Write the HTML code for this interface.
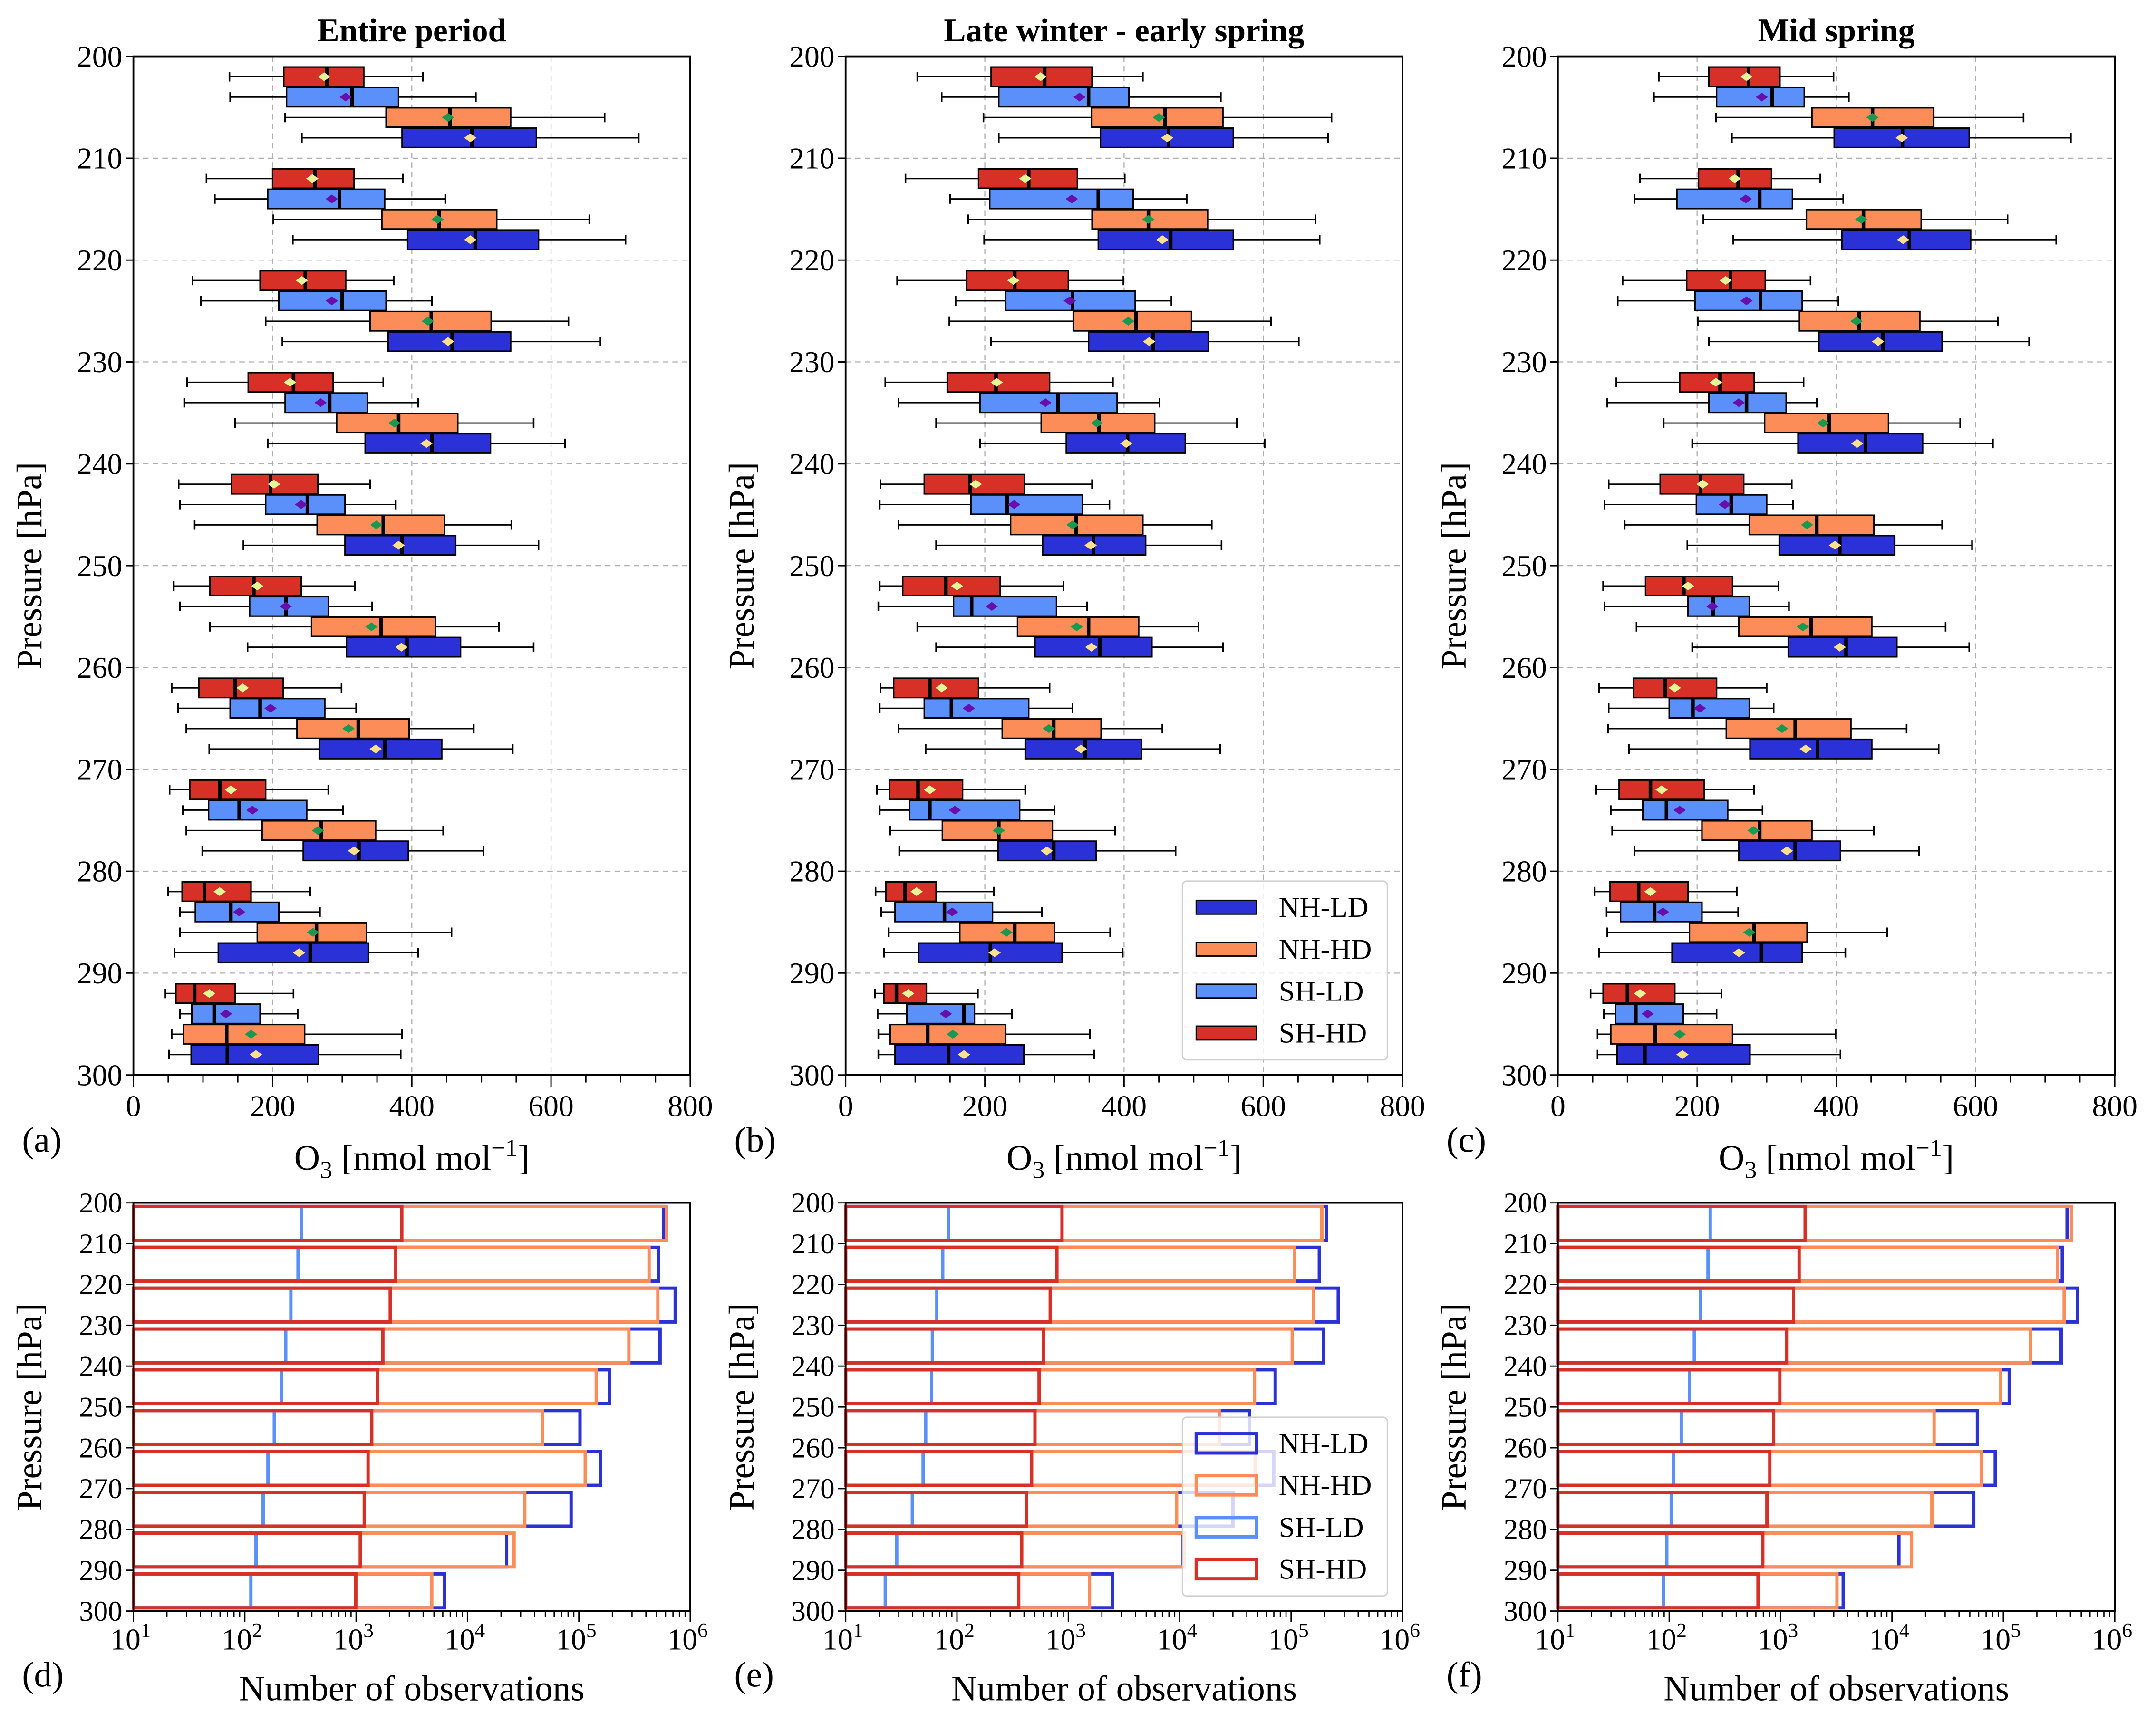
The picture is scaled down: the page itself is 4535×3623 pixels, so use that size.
<!DOCTYPE html>
<html><head><meta charset="utf-8"><style>
html,body{margin:0;padding:0;background:#fff;}
svg{display:block;font-family:"Liberation Serif","DejaVu Serif",serif;}
text{font-family:"Liberation Serif","DejaVu Serif",serif;}
</style></head><body>
<svg id="fig" xmlns="http://www.w3.org/2000/svg" width="4535" height="3623" viewBox="0 0 1568 1252.7" font-family="'Liberation Serif', 'DejaVu Serif', serif">
<rect x="0" y="0" width="1568" height="1252.7" fill="#fff"/>
</svg>
<script>
// ===== Data: boxplot stats per pressure bin, order [low whisker, q1, q3, median, mean, high whisker] =====
const pressures = [200,210,220,230,240,250,260,270,280,290];
const seriesNames = ["NH-LD","NH-HD","SH-LD","SH-HD"];
const a_SHHD = [[138,216,331,278,274,416],[105,200,317,261,257,387],[85,182,305,247,242,374],[77,165,287,230,225,359],[65,141,265,197,202,340],[58,110,241,173,178,318],[55,94,215,146,157,299],[52,81,190,124,140,280],[50,70,169,102,124,254],[46,61,146,88,109,230]];
const a_SHLD = [[139,220,381,314,305,492],[117,193,361,296,285,448],[97,209,363,300,285,429],[73,218,336,282,269,409],[67,190,304,250,241,377],[67,167,280,219,219,343],[64,139,275,182,197,320],[71,108,249,152,171,301],[67,89,209,140,152,268],[67,84,182,116,133,236]];
const a_NHHD = [[218,363,542,455,452,677],[201,357,522,439,437,655],[190,340,514,428,423,625],[146,292,466,381,375,575],[88,264,447,359,349,543],[110,256,434,356,342,525],[76,235,396,323,309,489],[76,185,348,270,265,445],[67,178,335,263,258,457],[55,72,246,134,169,386]];
const a_NHLD = [[242,386,579,486,484,726],[229,394,582,491,484,707],[214,366,542,458,452,671],[193,333,513,429,421,620],[158,304,463,386,381,582],[164,306,470,393,385,575],[109,267,443,361,348,545],[99,244,395,324,317,503],[59,122,338,254,238,409],[51,83,266,135,176,384]];
const b_SHHD = [[103,209,354,286,280,427],[86,191,333,263,258,401],[74,174,320,243,241,399],[57,146,293,216,217,384],[50,113,257,179,187,354],[49,82,222,144,160,313],[50,69,191,121,138,293],[45,63,168,104,121,258],[43,58,130,85,102,213],[42,55,116,73,90,190]];
const b_SHLD = [[138,220,407,349,336,539],[150,207,413,363,325,490],[158,230,416,326,322,468],[76,193,390,305,287,451],[49,180,340,232,242,379],[47,155,303,181,210,347],[49,113,263,152,177,326],[49,92,250,121,157,300],[51,71,211,142,153,282],[46,88,185,170,144,239]];
const b_NHHD = [[198,353,542,459,450,698],[176,354,520,435,435,675],[149,327,497,417,406,611],[130,281,444,364,361,562],[76,237,427,331,326,526],[103,247,421,349,332,507],[76,225,367,299,292,455],[64,139,297,220,220,387],[62,164,300,243,231,380],[47,64,230,118,154,351]];
const b_NHLD = [[220,366,557,464,462,693],[199,363,557,467,455,681],[209,349,521,442,436,651],[193,317,488,405,403,602],[130,283,431,356,352,540],[130,272,440,365,353,542],[115,258,425,344,338,538],[77,219,360,299,289,474],[55,105,311,208,214,398],[47,71,256,148,170,357]];
const c_SHHD = [[145,217,319,274,271,396],[118,202,307,259,254,377],[93,185,298,248,241,363],[84,175,282,233,227,353],[73,147,267,205,208,336],[65,126,251,181,187,317],[59,109,228,154,168,300],[55,88,210,133,149,282],[53,75,187,116,133,257],[47,65,168,100,118,235]];
const c_SHLD = [[138,228,354,308,293,418],[110,171,337,290,270,410],[86,197,351,291,271,403],[71,217,328,271,260,372],[67,199,300,249,240,338],[67,187,275,223,222,332],[73,160,275,194,204,310],[76,122,244,156,175,294],[70,90,207,139,151,259],[66,83,180,112,129,228]];
const c_NHHD = [[227,365,540,452,452,669],[209,357,522,439,436,646],[201,347,520,433,429,632],[152,297,475,390,381,578],[96,275,454,372,358,552],[113,260,451,364,352,557],[72,242,421,341,322,501],[78,207,365,290,281,454],[71,189,358,282,275,473],[57,76,251,140,175,399]];
const c_NHLD = [[250,397,591,495,494,737],[252,408,593,505,496,716],[217,375,552,467,460,677],[193,345,524,442,430,625],[186,318,484,405,398,595],[193,331,487,414,405,591],[102,276,451,373,356,547],[110,260,406,341,329,519],[59,164,351,292,260,413],[57,85,276,125,179,406]];
// ===== Data: number of observations, log10(count) =====
const d_NHLD = [5.76,5.716,5.865,5.729,5.273,5.01,5.193,4.93,4.351,3.795];
const d_NHHD = [5.785,5.63,5.709,5.449,5.156,4.674,5.057,4.514,4.418,3.679];
const d_SHLD = [2.507,2.478,2.414,2.368,2.328,2.265,2.208,2.165,2.101,2.055];
const d_SHHD = [3.41,3.356,3.306,3.24,3.193,3.14,3.107,3.073,3.037,2.997];
const e_NHLD = [5.319,5.253,5.423,5.293,4.857,4.627,4.844,4.478,4.03,3.396];
const e_NHHD = [5.276,5.033,5.2,5.01,4.671,4.354,4.677,3.972,4.038,3.19];
const e_SHLD = [1.925,1.872,1.819,1.779,1.772,1.719,1.696,1.599,1.459,1.356];
const e_SHHD = [2.943,2.897,2.837,2.777,2.737,2.7,2.67,2.624,2.581,2.554];
const f_NHLD = [5.572,5.529,5.666,5.519,5.053,4.767,4.927,4.734,4.062,3.562];
const f_NHHD = [5.612,5.489,5.546,5.243,4.977,4.378,4.804,4.358,4.175,3.506];
const f_SHLD = [2.368,2.348,2.281,2.225,2.181,2.108,2.038,2.018,1.978,1.948];
const f_SHHD = [3.22,3.166,3.116,3.053,2.993,2.937,2.903,2.877,2.84,2.797];
const xTicksTop = [0,200,400,600,800];
const yTicksTop = [200,210,220,230,240,250,260,270,280,290,300];
const xTicksLog = [1,2,3,4,5,6];
const titles = ["Entire period","Late winter - early spring","Mid spring"];
const letters = ["(a)","(b)","(c)","(d)","(e)","(f)"];

const NS = "http://www.w3.org/2000/svg";
const FONT = "'Liberation Serif', 'DejaVu Serif', serif";
const svg = document.getElementById("fig");
const COL = {"NH-LD":"#2a31d6","NH-HD":"#fc8d59","SH-LD":"#5b8ff9","SH-HD":"#d73027"};
const MEANCOL = {"NH-LD":"#fde08b","NH-HD":"#1a9850","SH-LD":"#6a0dad","SH-HD":"#e6f598"};
const OFFS = {"SH-HD":2,"SH-LD":4,"NH-HD":6,"NH-LD":8};
function el(tag, attrs, parent){const e=document.createElementNS(NS,tag);for(const k in attrs)e.setAttribute(k,attrs[k]);if(tag==="text")e.setAttribute("font-family",FONT);(parent||svg).appendChild(e);return e;}

const X0s=[97,615,1133], AXW=405;
const TOP_Y0=41, TOP_Y1=782, BOT_Y0=875, BOT_Y1=1172;

function drawTop(i, data){
  const x0=X0s[i];
  const g=el("g",{});
  
  
  const xs=v=>x0+v/800*AXW;
  const ys=p=>TOP_Y0+(p-200)/100*(TOP_Y1-TOP_Y0);
  [200,400,600].forEach(v=>{const l=el("line",{x1:xs(v),x2:xs(v),y1:TOP_Y0,y2:TOP_Y1,stroke:"#b0b0b0","stroke-width":0.8,"stroke-dasharray":"4,3"},g);
    });
  yTicksTop.slice(1,10).forEach(p=>{const l=el("line",{x1:x0,x2:x0+AXW,y1:ys(p),y2:ys(p),stroke:"#b0b0b0","stroke-width":0.8,"stroke-dasharray":"4,3"},g);
    });
  seriesNames.forEach(s=>{
    const arr=data[s];
    arr.forEach((d,k)=>{
      const [lo,q1,q3,med,mean,hi]=d;
      const yc=ys(pressures[k]+OFFS[s]), h=ys(201.9)-ys(200);
      const bg=el("g",{},g);
      
      
      el("line",{x1:xs(lo),x2:xs(q1),y1:yc,y2:yc,stroke:"#000","stroke-width":1},bg);
      el("line",{x1:xs(q3),x2:xs(hi),y1:yc,y2:yc,stroke:"#000","stroke-width":1},bg);
      el("line",{x1:xs(lo),x2:xs(lo),y1:yc-3.5,y2:yc+3.5,stroke:"#000","stroke-width":1.2},bg);
      el("line",{x1:xs(hi),x2:xs(hi),y1:yc-3.5,y2:yc+3.5,stroke:"#000","stroke-width":1.2},bg);
      el("rect",{x:xs(q1),y:yc-h/2,width:xs(q3)-xs(q1),height:h,fill:COL[s],stroke:"#000","stroke-width":1.1},bg);
      el("line",{x1:xs(med),x2:xs(med),y1:yc-h/2,y2:yc+h/2,stroke:"#000","stroke-width":2.6},bg);
      const mx=xs(mean);
      el("polygon",{points:`${mx-4.5},${yc} ${mx},${yc-3.2} ${mx+4.5},${yc} ${mx},${yc+3.2}`,fill:MEANCOL[s]},bg);
    });
  });
  const fr=el("rect",{x:x0,y:TOP_Y0,width:AXW,height:TOP_Y1-TOP_Y0,fill:"none",stroke:"#000","stroke-width":1.3},g);
  
  for(let v=0;v<=800;v+=50){const major=v%200===0;el("line",{x1:xs(v),x2:xs(v),y1:TOP_Y1,y2:TOP_Y1+(major?8.5:5.5),stroke:"#000","stroke-width":1},g);}
  xTicksTop.forEach(v=>{const t=el("text",{x:xs(v),y:812,"text-anchor":"middle","font-size":22},g);t.textContent=v;
    });
  yTicksTop.forEach(p=>{el("line",{x1:x0-5.5,x2:x0,y1:ys(p),y2:ys(p),stroke:"#000","stroke-width":1},g);
    const t=el("text",{x:x0-8,y:ys(p)+7.5,"text-anchor":"end","font-size":22},g);t.textContent=p;
    });
  const tt=el("text",{x:x0+AXW/2,y:30,"text-anchor":"middle","font-size":24,"font-weight":"bold"},g);tt.textContent=titles[i];
  
  const xl=el("text",{x:x0+AXW/2,y:851,"text-anchor":"middle","font-size":26},g);
  
  xl.innerHTML='O<tspan font-size="18" dy="6">3</tspan><tspan dy="-6"> [nmol mol</tspan><tspan font-size="18" dy="-10">−1</tspan><tspan dy="10">]</tspan>';
  const yl=el("text",{x:0,y:0,transform:`translate(${x0-67},${(TOP_Y0+TOP_Y1)/2}) rotate(-90)`,"text-anchor":"middle","font-size":26},g);yl.textContent="Pressure [hPa]";
  
  const lt=el("text",{x:x0-81,y:838,"font-size":26},g);lt.textContent=letters[i];
  
}

function drawBot(i, data){
  const x0=X0s[i];
  const g=el("g",{});
  
  
  const xs=lg=>x0+(lg-1)/5*AXW;
  const ys=p=>BOT_Y0+(p-200)/100*(BOT_Y1-BOT_Y0);
  ["NH-LD","NH-HD","SH-LD","SH-HD"].forEach(s=>{
    data[s].forEach((lg,k)=>{
      const y1=ys(pressures[k]+0.9), y2=ys(pressures[k]+9.2);
      const r=el("rect",{x:x0,y:y1,width:xs(lg)-x0,height:y2-y1,fill:"none",stroke:COL[s],"stroke-width":2.4},g);
      
      
    });
  });
  const fr=el("rect",{x:x0,y:BOT_Y0,width:AXW,height:BOT_Y1-BOT_Y0,fill:"none",stroke:"#000","stroke-width":1.3},g);
  
  for(let dcd=1;dcd<6;dcd++){for(let m=2;m<10;m++){const x=xs(dcd+Math.log10(m));el("line",{x1:x,x2:x,y1:BOT_Y1,y2:BOT_Y1+4.5,stroke:"#000","stroke-width":0.9},g);}}
  xTicksLog.forEach(e=>{el("line",{x1:xs(e),x2:xs(e),y1:BOT_Y1,y2:BOT_Y1+8,stroke:"#000","stroke-width":1},g);
    const t=el("text",{x:xs(e)-2,y:1200,"text-anchor":"middle","font-size":22},g);
    t.innerHTML='10<tspan font-size="15" dy="-9">'+e+'</tspan>';
    });
  yTicksTop.forEach(p=>{el("line",{x1:x0-5.5,x2:x0,y1:ys(p),y2:ys(p),stroke:"#000","stroke-width":1},g);
    const t=el("text",{x:x0-8,y:ys(p)+7,"text-anchor":"end","font-size":21},g);t.textContent=p;
    });
  const xl=el("text",{x:x0+AXW/2,y:1237,"text-anchor":"middle","font-size":26},g);xl.textContent="Number of observations";
  
  const yl=el("text",{x:0,y:0,transform:`translate(${x0-67},${(BOT_Y0+BOT_Y1)/2}) rotate(-90)`,"text-anchor":"middle","font-size":26},g);yl.textContent="Pressure [hPa]";
  
  const lt=el("text",{x:x0-81,y:1227,"font-size":26},g);lt.textContent=letters[i+3];
  
}

function legend(y0, filled){
  const g=el("g",{});
  
  
  el("rect",{x:860,y:y0,width:149,height:130,rx:3,fill:"#fff","fill-opacity":0.8,stroke:"#d0d0d0","stroke-width":1},g);
  seriesNames.forEach((s,k)=>{
    const yc=y0+19+k*30.5;
    const e=el("g",{},g);
    
    
    if(filled) el("rect",{x:870,y:yc-5,width:44,height:10,fill:COL[s],stroke:"#000","stroke-width":1},e);
    else el("rect",{x:870,y:yc-7,width:44,height:14,fill:"none",stroke:COL[s],"stroke-width":2.4},e);
    const t=el("text",{x:930,y:yc+7,"font-size":21},e);t.textContent=s;
  });
}

drawTop(0,{"NH-LD":a_NHLD,"NH-HD":a_NHHD,"SH-LD":a_SHLD,"SH-HD":a_SHHD});
drawTop(1,{"NH-LD":b_NHLD,"NH-HD":b_NHHD,"SH-LD":b_SHLD,"SH-HD":b_SHHD});
drawTop(2,{"NH-LD":c_NHLD,"NH-HD":c_NHHD,"SH-LD":c_SHLD,"SH-HD":c_SHHD});
drawBot(0,{"NH-LD":d_NHLD,"NH-HD":d_NHHD,"SH-LD":d_SHLD,"SH-HD":d_SHHD});
drawBot(1,{"NH-LD":e_NHLD,"NH-HD":e_NHHD,"SH-LD":e_SHLD,"SH-HD":e_SHHD});
drawBot(2,{"NH-LD":f_NHLD,"NH-HD":f_NHHD,"SH-LD":f_SHLD,"SH-HD":f_SHHD});
legend(641,true);
legend(1031,false);
</script>
</body></html>
